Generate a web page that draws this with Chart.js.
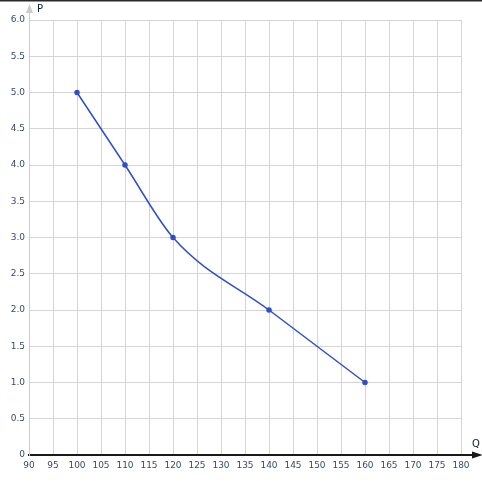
<!DOCTYPE html>
<html>
<head>
<meta charset="utf-8">
<script src="https://cdn.jsdelivr.net/npm/chart.js@4/dist/chart.umd.min.js"></script>
<style>
html,body{margin:0;padding:0;background:#fff;}
#wrap{width:482px;height:488px;position:relative;}
</style>
</head>
<body>
<div id="wrap"><canvas id="c" width="482" height="488"></canvas></div>
<script>
const qValues = [100, 110, 120, 140, 160];
const pValues = [5, 4, 3, 2, 1];
const xAxisLabel = 'Q';
const yAxisLabel = 'P';
const xRange = [90, 180];
const yRange = [0, 6];

const points = qValues.map((q, i) => ({x: q, y: pValues[i]}));

const arrowPlugin = {
  id: 'arrows',
  beforeDraw(chart) {
    const ctx = chart.ctx;
    ctx.save();
    ctx.fillStyle = '#2a2a2a';
    ctx.fillRect(0, 0, chart.width, 1.5);
    ctx.restore();
  },
  afterDraw(chart) {
    const ctx = chart.ctx;
    const xs = chart.scales.x, ys = chart.scales.y;
    const x0 = xs.getPixelForValue(xRange[0]);
    const y0 = ys.getPixelForValue(yRange[0]);
    const yTop = ys.getPixelForValue(yRange[1]);
    const xRight = xs.getPixelForValue(xRange[1]);
    ctx.save();
    ctx.strokeStyle = '#cccccc';
    ctx.lineWidth = 1;
    ctx.beginPath();
    ctx.moveTo(x0 + 0.5, yTop);
    ctx.lineTo(x0 + 0.5, 10);
    ctx.stroke();
    ctx.fillStyle = '#cccccc';
    ctx.beginPath();
    ctx.moveTo(x0 + 0.5, 4);
    ctx.lineTo(x0 - 3, 13);
    ctx.lineTo(x0 + 4, 13);
    ctx.closePath();
    ctx.fill();
    ctx.strokeStyle = '#1a1a1a';
    ctx.lineWidth = 2;
    ctx.beginPath();
    ctx.moveTo(xRight, y0);
    ctx.lineTo(476, y0);
    ctx.stroke();
    ctx.fillStyle = '#1a1a1a';
    ctx.beginPath();
    ctx.moveTo(483, y0);
    ctx.lineTo(472, y0 - 3.5);
    ctx.lineTo(472, y0 + 3.5);
    ctx.closePath();
    ctx.fill();
    ctx.fillStyle = '#111a33';
    ctx.font = '10px "DejaVu Sans", Verdana, sans-serif';
    ctx.textBaseline = 'middle';
    ctx.textAlign = 'left';
    ctx.fillText(yAxisLabel, x0 + 8, 9);
    ctx.fillText(xAxisLabel, 472, y0 - 11);
    ctx.restore();
  }
};

new Chart(document.getElementById('c'), {
  type: 'scatter',
  data: {
    datasets: [{
      data: points,
      showLine: true,
      borderColor: '#2f4fc8',
      backgroundColor: '#2f4fc8',
      borderWidth: 1.5,
      pointRadius: 2,
      pointHoverRadius: 2,
      cubicInterpolationMode: 'monotone'
    }]
  },
  options: {
    responsive: false,
    animation: false,
    events: [],
    layout: {padding: {left: 0, right: 21, top: 20, bottom: 0}},
    plugins: {legend: {display: false}, tooltip: {enabled: false}},
    scales: {
      x: {
        type: 'linear',
        min: xRange[0], max: xRange[1],
        ticks: {stepSize: 5, color: '#3a4a6a', font: {size: 9, family: '"DejaVu Sans", Verdana, sans-serif'}, maxRotation: 0, padding: 5},
        grid: {color: '#d4d4d4', drawTicks: false, lineWidth: 1},
        border: {color: '#1a1a1a', width: 2},
        afterFit(s) { s.height = 33; }
      },
      y: {
        type: 'linear',
        min: yRange[0], max: yRange[1],
        ticks: {stepSize: 0.5, color: '#3a4a6a', font: {size: 9, family: '"DejaVu Sans", Verdana, sans-serif'}, padding: 4,
          callback: v => v === 0 ? '0' : v.toFixed(1)},
        grid: {color: '#d4d4d4', drawTicks: false, lineWidth: 1},
        border: {color: '#cccccc', width: 1},
        afterFit(s) { s.width = 29; }
      }
    }
  },
  plugins: [arrowPlugin]
});
</script>
</body>
</html>
